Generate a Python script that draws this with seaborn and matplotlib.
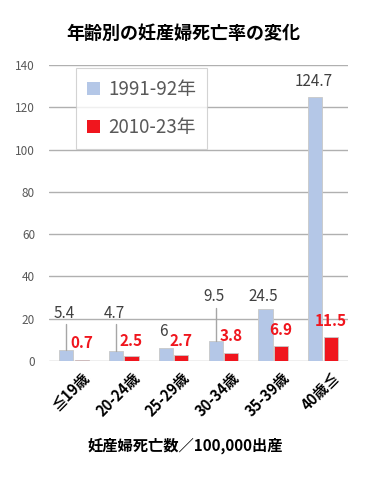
import matplotlib
matplotlib.use("Agg")
import matplotlib.pyplot as plt
import matplotlib.transforms as mtransforms
import seaborn as sns
import pandas as pd
from matplotlib.patches import Patch

# ---- data ----
ages = ["≦19歳", "20-24歳", "25-29歳", "30-34歳", "35-39歳", "40歳≦"]
rate_1991 = [5.4, 4.7, 6, 9.5, 24.5, 124.7]
rate_2010 = [0.7, 2.5, 2.7, 3.8, 6.9, 11.5]
labels_1991 = ["5.4", "4.7", "6", "9.5", "24.5", "124.7"]
labels_2010 = ["0.7", "2.5", "2.7", "3.8", "6.9", "11.5"]
periods = ["1991-92年", "2010-23年"]
title = "年齢別の妊産婦死亡率の変化"
xlabel = "妊産婦死亡数／100,000出産"

# label placement (style)
blue_label_y = [22.5, 22.5, 13.8, 30.5, 30.5, 132]
red_label_y = [8.6, 9.5, 9.5, 12, 14.8, 19]
leader = [True, True, False, True, False, False]

df = pd.DataFrame({
    "age": ages * 2,
    "rate": rate_1991 + rate_2010,
    "period": [periods[0]] * len(ages) + [periods[1]] * len(ages),
})

sns.set_theme(style="white")
plt.rcParams["font.family"] = ["Noto Sans CJK JP", "DejaVu Sans"]

BLUE = "#b4c7e7"
RED = "#f0161e"

fig = plt.figure(figsize=(3.68, 4.79), dpi=100)
ax = fig.add_axes([49 / 368, 1 - 361 / 479, 299 / 368, 296 / 479])

sns.barplot(data=df, x="age", y="rate", hue="period", palette=[BLUE, RED],
            saturation=1, width=0.62, gap=0.08, edgecolor="#c8c8c8",
            linewidth=0.6, ax=ax, legend=False, zorder=3)

ax.set_ylim(0, 140)
ax.set_xlim(-0.5, len(ages) - 0.5)
ax.set_yticks(range(0, 141, 20))
ax.yaxis.grid(True, color="#b0b0b0", linewidth=1.0, zorder=0)
ax.xaxis.grid(False)
for s in ax.spines.values():
    s.set_visible(False)
ax.tick_params(axis="y", length=0, labelsize=8.5, labelcolor="#595959", pad=10)
ax.tick_params(axis="x", length=0, pad=6)
ax.set_xticks(range(len(ages)))
ax.set_xticklabels(ages, rotation=45, ha="right", rotation_mode="anchor",
                   fontsize=10.5, fontweight="bold", color="black")
shift = mtransforms.ScaledTranslation(8 / 100, 0, fig.dpi_scale_trans)
for lbl in ax.get_xticklabels():
    lbl.set_transform(lbl.get_transform() + shift)
ax.set_ylabel("")
ax.set_xlabel("")

# data labels
blue_bars = ax.containers[0]
red_bars = ax.containers[1]
for i, p in enumerate(blue_bars):
    cx = p.get_x() + p.get_width() / 2
    ax.text(cx - 0.04, blue_label_y[i], labels_1991[i], ha="center", va="center",
            fontsize=11, color="#404040", zorder=5)
    if leader[i]:
        ax.plot([cx, cx], [p.get_height(), blue_label_y[i] - 5.2],
                color="#a6a6a6", lw=1, zorder=4)
for i, p in enumerate(red_bars):
    cx = p.get_x() + p.get_width() / 2
    ax.text(cx, red_label_y[i], labels_2010[i], ha="center", va="center",
            fontsize=11, color=RED, fontweight="bold", zorder=5)

# legend
handles = [Patch(facecolor=BLUE, edgecolor="none"), Patch(facecolor=RED, edgecolor="none")]
leg = fig.legend(handles, periods, loc="upper left",
                 bbox_to_anchor=(76 / 368, 1 - 68 / 479), fontsize=13.5,
                 frameon=True, fancybox=False, edgecolor="#c8c8c8",
                 handlelength=0.7, handleheight=0.7, handletextpad=0.4,
                 labelspacing=0.9, borderpad=0.6, borderaxespad=0)
leg.get_frame().set_linewidth(0.8)
for t in leg.get_texts():
    t.set_color("#595959")

fig.text(183 / 368, 1 - 33 / 479, title, ha="center", va="center",
         fontsize=13, fontweight="bold", color="black")
fig.text(185 / 368, 1 - 446 / 479, xlabel, ha="center", va="center",
         fontsize=11, fontweight="bold", color="black")

fig.savefig("out.png", dpi=100, facecolor="white")
